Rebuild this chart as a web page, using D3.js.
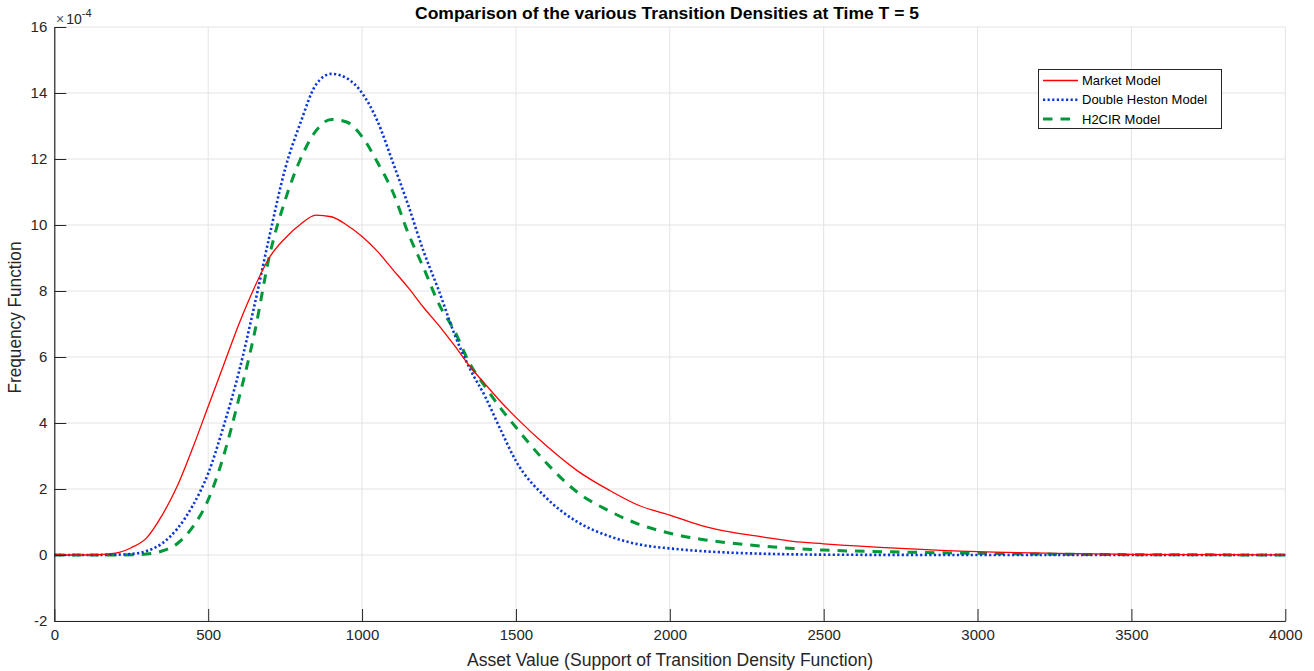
<!DOCTYPE html>
<html>
<head>
<meta charset="utf-8">
<script src="https://cdn.jsdelivr.net/npm/d3@7"></script>
<style>
  html, body { margin: 0; padding: 0; background: #fff; }
  svg { display: block; font-family: "Liberation Sans", Arial, Helvetica, sans-serif; }
</style>
</head>
<body>
<svg id="chart" width="1314" height="671"></svg>
<script>
// ---- Data (density values in units of 1e-4) ----
const assetValues = [0, 100, 200, 250, 300, 350, 400, 450, 500, 550, 600, 650, 700, 750, 800, 850, 900, 950, 1000, 1050, 1100, 1150, 1200, 1250, 1300, 1350, 1400, 1450, 1500, 1600, 1700, 1800, 1900, 2000, 2100, 2200, 2300, 2400, 2500, 2750, 3000, 3250, 3500, 3750, 4000];
const marketModel = [0, 0, 0.06, 0.22, 0.52, 1.2, 2.1, 3.25, 4.5, 5.75, 7.0, 8.1, 9.03, 9.6, 10.02, 10.3, 10.25, 10.0, 9.65, 9.2, 8.65, 8.1, 7.5, 6.95, 6.35, 5.72, 5.18, 4.65, 4.17, 3.3, 2.55, 1.98, 1.5, 1.21, 0.9, 0.69, 0.55, 0.41, 0.34, 0.2, 0.1, 0.05, 0.02, 0.01, 0.005];
const doubleHeston = [0, 0, 0.01, 0.03, 0.12, 0.35, 0.8, 1.5, 2.47, 3.9, 5.55, 7.55, 9.7, 11.7, 13.1, 14.25, 14.58, 14.45, 14.0, 13.15, 11.9, 10.6, 9.2, 8.0, 6.7, 5.65, 4.8, 3.8, 2.85, 1.72, 1.0, 0.58, 0.32, 0.2, 0.12, 0.07, 0.04, 0.02, 0.01, 0.003, 0.001, 0, 0, 0, 0];
const h2cir = [0, 0, 0, 0.005, 0.03, 0.12, 0.35, 0.85, 1.67, 3.0, 4.75, 6.7, 9.1, 10.75, 12.0, 12.85, 13.2, 13.12, 12.68, 11.9, 11.0, 9.75, 8.7, 7.6, 6.8, 5.8, 5.1, 4.45, 3.87, 2.78, 1.9, 1.35, 0.93, 0.66, 0.48, 0.36, 0.27, 0.2, 0.15, 0.09, 0.05, 0.025, 0.01, 0.005, 0];
const seriesNames = ["Market Model", "Double Heston Model", "H2CIR Model"];
const xTicks = [0, 500, 1000, 1500, 2000, 2500, 3000, 3500, 4000];
const yTicks = [-2, 0, 2, 4, 6, 8, 10, 12, 14, 16];

// ---- Layout ----
const svg = d3.select("#chart");
const mLeft = 54.3, mRight = 1285.3, mTop = 27, mBottom = 621;
const x = d3.scaleLinear().domain([0, 4000]).range([mLeft, mRight]);
const y = d3.scaleLinear().domain([-2, 16]).range([mBottom, mTop]);
const textColor = "#262626";
const gridColor = "#e3e3e3";

// Gridlines
const grid = svg.append("g");
grid.selectAll("line.v").data(xTicks).join("line").attr("class", "v")
  .attr("x1", d => x(d)).attr("x2", d => x(d))
  .attr("y1", mTop).attr("y2", mBottom)
  .attr("stroke", gridColor).attr("stroke-width", 1);
grid.selectAll("line.h").data(yTicks).join("line").attr("class", "h")
  .attr("x1", mLeft).attr("x2", mRight)
  .attr("y1", d => y(d)).attr("y2", d => y(d))
  .attr("stroke", gridColor).attr("stroke-width", 1);

// Series
const series = [
  { name: seriesNames[0], values: marketModel, color: "#ff0000", width: 1.3, dash: null },
  { name: seriesNames[1], values: doubleHeston, color: "#0a36d8", width: 2.6, dash: "2.2,2.4" },
  { name: seriesNames[2], values: h2cir, color: "#00993a", width: 3, dash: "9.5,8" }
];
const line = d3.line().x(d => x(d[0])).y(d => y(d[1])).curve(d3.curveMonotoneX);
const plot = svg.append("g");
series.slice().reverse().forEach(s => {
  plot.append("path")
    .datum(assetValues.map((a, i) => [a, s.values[i]]))
    .attr("d", line)
    .attr("fill", "none")
    .attr("stroke", s.color)
    .attr("stroke-width", s.width)
    .attr("stroke-dasharray", s.dash)
    .attr("stroke-linejoin", "round");
});

// Axes (MATLAB style: inward ticks, box off)
const xAxis = d3.axisBottom(x).tickValues(xTicks).tickSizeInner(-12).tickSizeOuter(0).tickPadding(18).tickFormat(d3.format("d"));
const yAxis = d3.axisLeft(y).tickValues(yTicks).tickSizeInner(-12).tickSizeOuter(0).tickPadding(19).tickFormat(d => d);
const gx = svg.append("g").attr("transform", `translate(0,${mBottom})`).call(xAxis);
const gy = svg.append("g").attr("transform", `translate(${mLeft},0)`).call(yAxis);
[gx, gy].forEach(g => {
  g.select(".domain").attr("stroke", textColor).attr("stroke-width", 1.2);
  g.selectAll(".tick line").attr("stroke", textColor).attr("stroke-width", 1);
  g.selectAll(".tick text").attr("fill", textColor).attr("font-size", 15)
    .attr("font-family", "'Liberation Sans', Arial, sans-serif");
});
gy.selectAll(".tick text").attr("x", -7);
gx.selectAll(".tick text").attr("y", 8).attr("dy", "0.71em");

// Exponent label
const expo = svg.append("text").attr("x", 56).attr("y", 24).attr("fill", textColor).attr("font-size", 14);
expo.append("tspan").text("×").attr("fill", "#555").attr("font-size", 14);
expo.append("tspan").text("10").attr("dx", 2);
expo.append("tspan").text("-4").attr("font-size", 11).attr("dy", -7);

// Title
svg.append("text").attr("x", 667).attr("y", 18.5)
  .attr("text-anchor", "middle").attr("font-weight", "bold").attr("font-size", 17)
  .attr("textLength", 504).attr("lengthAdjust", "spacingAndGlyphs")
  .attr("fill", "#000")
  .text("Comparison of the various Transition Densities at Time T = 5");

// Axis labels
svg.append("text").attr("x", 670).attr("y", 666)
  .attr("text-anchor", "middle").attr("font-size", 17.5).attr("fill", textColor)
  .attr("textLength", 406).attr("lengthAdjust", "spacingAndGlyphs")
  .text("Asset Value (Support of Transition Density Function)");
svg.append("text").attr("transform", `translate(21,317.5) rotate(-90)`)
  .attr("text-anchor", "middle").attr("font-size", 17.5).attr("fill", textColor)
  .attr("textLength", 152).attr("lengthAdjust", "spacingAndGlyphs")
  .text("Frequency Function");

// Legend
const lg = svg.append("g");
lg.append("rect").attr("x", 1038.5).attr("y", 69.5).attr("width", 183).attr("height", 59)
  .attr("fill", "#fff").attr("stroke", textColor).attr("stroke-width", 1);
const legendY = d3.scalePoint().domain(seriesNames).range([80.5, 119]);
series.forEach(s => {
  const yy = legendY(s.name);
  lg.append("line").attr("x1", 1043).attr("x2", 1078).attr("y1", yy).attr("y2", yy)
    .attr("stroke", s.color).attr("stroke-width", s.width).attr("stroke-dasharray", s.dash);
  lg.append("text").attr("x", 1082).attr("y", yy).attr("dy", "0.35em")
    .attr("font-size", 13).attr("fill", "#000").text(s.name);
});
</script>
</body>
</html>
